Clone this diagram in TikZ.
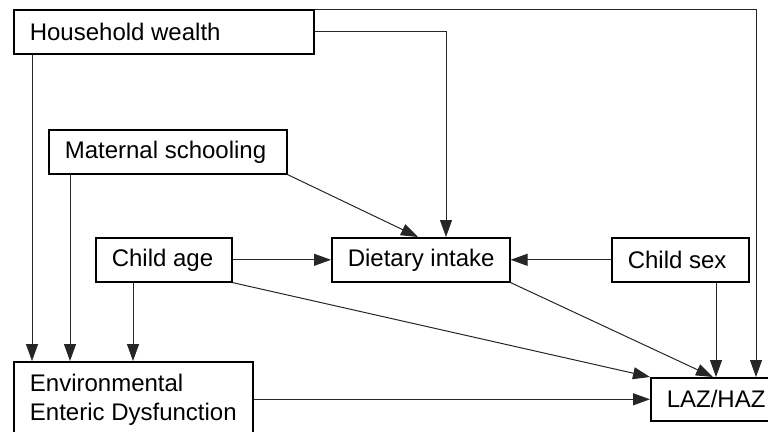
\documentclass[tikz,border=0pt]{standalone}
\usepackage{fontspec}
\setmainfont{Liberation Sans}
\usetikzlibrary{arrows.meta}
\begin{document}
\begin{tikzpicture}[x=1pt,y=-1pt,
  box/.style={draw=black,line width=1.6pt,fill=white,anchor=north west,
    inner xsep=16pt,inner ysep=0pt,minimum height=44pt,
    font=\fontsize{24}{29}\selectfont},
  arr/.style={draw=black!85,line width=1pt,-{Triangle[length=17pt,width=12pt]}}]
\useasboundingbox (0,0) rectangle (768,431);
\clip (0,0) rectangle (768,431);
\node[box] (wealth) at (13,9) {\makebox[268pt][l]{Household wealth}};
\node[box] (mat) at (48,129) {\makebox[206pt][l]{Maternal schooling}};
\node[box] (age) at (95,237) {\makebox[104pt][l]{Child age}};
\node[box] (diet) at (331,237) {\makebox[146pt][l]{Dietary intake}};
\node[box] (sex) at (611,237) {\makebox[105pt][l]{Child sex}};
\node[box,minimum height=43pt] (laz) at (650,377) {\makebox[86pt][l]{LAZ/HAZ}};
\node[box,align=left,minimum width=239pt,minimum height=76pt,inner ysep=4pt] (eed) at (13,361) {Environmental\\Enteric Dysfunction};
% connectors
\draw[arr] ([xshift=19pt]wealth.south west) -- ([xshift=19pt]wealth.south west |- eed.north);
\draw[arr] ([xshift=22pt]mat.south west) -- ([xshift=22pt]mat.south west |- eed.north);
\draw[arr] ([xshift=38pt]age.south west) -- ([xshift=38pt]age.south west |- eed.north);
\draw[arr] (wealth.east) -| ([xshift=115pt]diet.north west);
\draw[arr] (wealth.north east) -| ([xshift=106pt]laz.north west);
\draw[arr] (mat.south east) -- ([xshift=87pt]diet.north west);
\draw[arr] (age.east) -- (diet.west);
\draw[arr] (age.south east) -- (laz.north west);
\draw[arr] (sex.west) -- (diet.east);
\draw[arr] ([xshift=105pt]sex.south west) -- ([xshift=105pt]sex.south west |- laz.north);
\draw[arr] (diet.south east) -- ([xshift=63pt]laz.north west);
\draw[arr] (eed.east |- laz.west) -- (laz.west);
\end{tikzpicture}
\end{document}
